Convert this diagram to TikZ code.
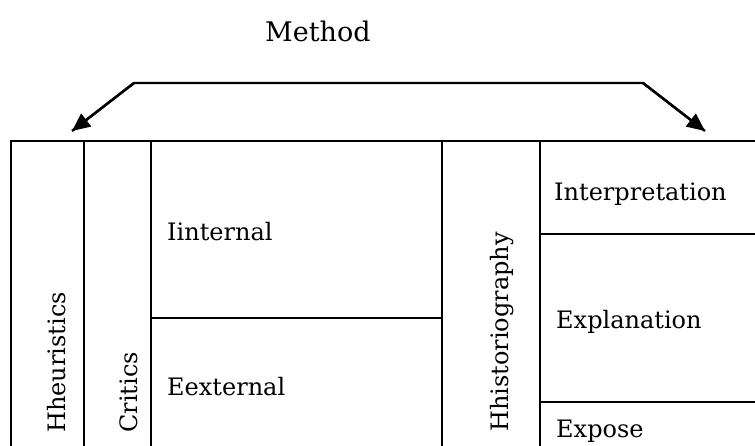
\documentclass[tikz,border=0pt]{standalone}
\usepackage{fontspec}
\setmainfont{DejaVu Serif}
\usetikzlibrary{arrows.meta}
\begin{document}
\begin{tikzpicture}[x=1pt,y=-1pt,
  rule/.style={line width=2.4pt},
  arr/.style={line width=2.4pt,-{Triangle[length=18pt,width=16pt]}},
  lbl/.style={inner sep=0pt,anchor=base west,font=\fontsize{24}{28}\selectfont},
  vlbl/.style={inner sep=0pt,anchor=base west,rotate=90,font=\fontsize{24}{28}\selectfont},
  ttl/.style={inner sep=0pt,anchor=base west,font=\fontsize{27}{32}\selectfont}]
\useasboundingbox (0,0) rectangle (755,446);
\fill[white] (0,0) rectangle (755,446);
% title and arrows
\node[ttl] (method) at (265,42) {Method};
\coordinate (bl) at (134,83);
\coordinate (br) at (643,83);
\coordinate (tl) at (72,131);
\coordinate (tr) at (705,131);
\draw[rule,line join=miter] (tl) -- (bl) -- (br) -- (tr);
\draw[arr] (bl) -- (tl);
\draw[arr] (br) -- (tr);
% table frame
\coordinate (c0) at (11,141);
\coordinate (c1) at (84,141);
\coordinate (c2) at (151,141);
\coordinate (c3) at (442,141);
\coordinate (c4) at (540,141);
\draw[rule] (9.8,141) -- (760,141);
\foreach \c in {c0,c1,c2,c3,c4}{\draw[rule] (\c) -- (\c |- 0,452);}
\draw[rule] (151,318) -- (442,318);
\draw[rule] (540,234) -- (760,234);
\draw[rule] (540,402) -- (760,402);
% labels
\node[vlbl] (heur) at (65,433) {Hheuristics};
\node[vlbl] (crit) at (137,433) {Critics};
\node[vlbl] (hist) at (508,432) {Hhistoriography};
\node[lbl] (int) at (167,241) {Iinternal};
\node[lbl] (ext) at (167,395) {Eexternal};
\node[lbl] (interp) at (554,201) {Interpretation};
\node[lbl] (expl) at (556,329) {Explanation};
\node[lbl] (expo) at (556,437) {Expose};
\end{tikzpicture}
\end{document}
